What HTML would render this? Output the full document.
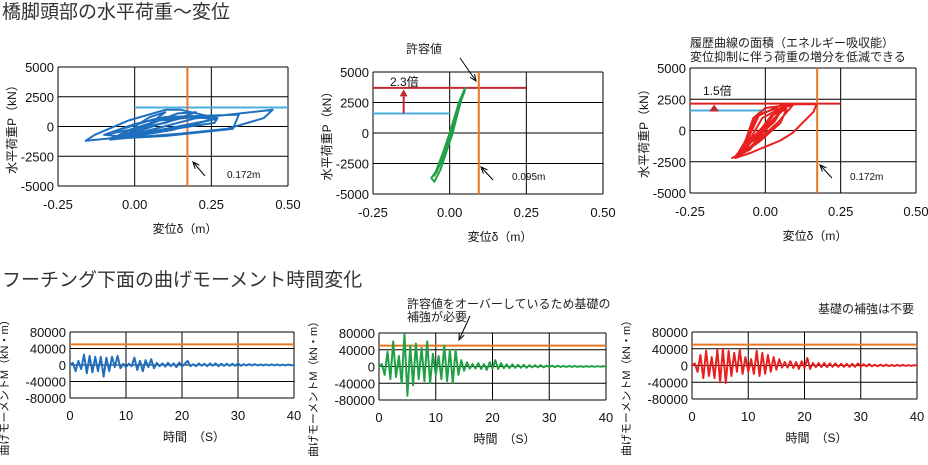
<!DOCTYPE html>
<html><head><meta charset="utf-8"><style>
body{margin:0;background:#fff;}
svg{display:block;font-family:"Liberation Sans","Noto Sans CJK JP",sans-serif;}
</style></head><body>
<svg id="c" width="928" height="465" viewBox="0 0 928 465">
<text x="2" y="18" font-size="19" fill="#333">橋脚頭部の水平荷重～変位</text>
<text x="2" y="286" font-size="19" fill="#333">フーチング下面の曲げモーメント時間変化</text>
<text x="690" y="47" font-size="12" fill="#222">履歴曲線の面積（エネルギー吸収能）</text>
<text x="690" y="61" font-size="12" fill="#222">変位抑制に伴う荷重の増分を低減できる</text>
<text x="406" y="53" font-size="12" fill="#222">許容値</text>
<text x="407" y="308" font-size="12" fill="#222">許容値をオーバーしているため基礎の</text>
<text x="407" y="321" font-size="12" fill="#222">補強が必要</text>
<text x="818" y="313" font-size="12" fill="#222">基礎の補強は不要</text>
</svg>
<script>
// ---- data ----
const hystXTicks=[-0.25,0,0.25,0.5];
const hystXTickLabels=["-0.25","0.00","0.25","0.50"];
const hystYTicks=[-5000,-2500,0,2500,5000];
const hystYTickLabels=["-5000","-2500","0","2500","5000"];
const blueDisp=[0,0.05,0.1,0.02,-0.08,-0.16,-0.13,-0.02,0.1,0.15,0.27,0.12,-0.02,-0.1,0,0.1,0.34,0.32,0.1,-0.05,0.05,0.2,0.45,0.42,0.3,0.15,0,-0.08,-0.02,0.08,0.2,0.26,0.12,0.02,-0.06,0.04,0.14,0.2,0.1,0,-0.1,-0.04,0.06,0.13,0.27,0.26,0.1,-0.03,0.08,0.18,0.12];
const blueLoad=[0,800,1200,-300,-1000,-1200,-700,500,1400,1400,700,-300,-900,-700,200,800,1000,-200,-800,-1000,-300,700,1400,700,-200,-600,-900,-1100,-300,500,800,600,-100,-600,-900,100,1100,1200,300,-200,-700,-200,600,800,700,300,-300,-800,200,900,500];
const greenDisp=[0,0.03,0.05,0.04,-0.01,-0.04,-0.06,-0.05,-0.03,0.01,0.04,0.05,0.02,-0.02,-0.05,-0.03,0.02,0.045,0.03,0,-0.03,-0.045,-0.02,0.01];
const greenLoad=[0,2500,3700,3000,-1000,-3000,-3700,-4000,-3000,0,3000,3500,1500,-1500,-3500,-2500,1000,3400,2500,-200,-2500,-3300,-1500,200];
const redDisp=[0,0.05,0.08,0.03,-0.05,-0.11,-0.08,-0.04,0,0.1,0.17,0.16,0.09,0.05,-0.05,-0.1,-0.07,-0.03,0.05,0.08,0,-0.06,-0.1,-0.06,-0.02,0.04,0.02,-0.04,-0.09,-0.05,0.01,0.06,0.03,-0.05,-0.1,-0.07,-0.01,0.06,0.09,0.04,-0.03,-0.08,-0.04,0.02,0.07,0.05,-0.02,-0.07];
const redLoad=[0,1500,2100,1000,-1500,-2200,-1800,1000,1800,2100,2100,1500,-200,-800,-1800,-2200,-1000,1100,2000,2100,300,-1200,-2100,-800,1300,1800,1000,-500,-2000,-1500,900,1900,700,-1000,-2100,-1500,1000,1900,2000,600,-900,-1900,-700,1200,1700,600,-900,-1700];
const baseLoad=1600;
const p2Ref=3700, p3Ref=2150;
const p1Allow=0.172, p2Allow=0.095, p3Allow=0.172;
const timeXTicks=[0,10,20,30,40];
const timeYTicks=[-80000,-40000,0,40000,80000];
const timeYTickLabels=["-80000","-40000","0","40000","80000"];
const momentAllow=50000;
const timeStep=0.5;
const blueMoment=[0,5000,-15000,10000,-10000,25000,-20000,22000,-18000,20000,-15000,20000,-28000,18000,-15000,20000,-5000,22000,-8000,3000,-5000,3000,-3000,18000,-12000,10000,-15000,12000,-5000,14000,-8000,5000,-3000,4000,-4000,5000,-3000,4000,-5000,6000,-4000,3000,10000,-3000,2000,-3000,4000,-2000,3000,-3000,4000,-2000,4000,-3000,3000,-2000,3000,-2000,3000,-2000,4000,-2000,2000,-1000,2000,-1000,2000,-1000,1500,-1000,1500,-1000,1500,-1000,1500,-1000,1000,-1000,1000,-500,0];
const greenMoment=[0,6000,-20000,35000,-30000,60000,-25000,25000,-40000,78000,-70000,50000,-45000,55000,-30000,45000,-35000,60000,-40000,30000,-20000,25000,-30000,50000,-35000,40000,-40000,40000,-20000,15000,-10000,10000,-5000,6000,-5000,8000,-6000,6000,-8000,10000,-5000,15000,-6000,8000,-4000,5000,-4000,5000,-3000,4000,-3000,4000,-3000,3000,-2000,3000,-2000,3000,-2000,2000,-1500,2000,-1500,2000,-1000,1500,-1000,1500,-1000,1500,-1000,1000,-1000,1000,-800,1000,-800,800,-500,500,0];
const redMoment=[0,5000,-15000,25000,-30000,35000,-25000,20000,-30000,38000,-40000,40000,-42000,35000,-25000,30000,-15000,38000,-20000,20000,-15000,15000,-20000,35000,-25000,30000,-20000,25000,-15000,20000,-10000,15000,-5000,8000,-5000,10000,-6000,8000,-8000,10000,-6000,18000,-8000,6000,-4000,6000,-4000,6000,-4000,5000,-3000,5000,-3000,4000,-3000,4000,-3000,4000,-3000,5000,-3000,3000,-2000,3000,-2000,2000,-2000,2000,-1500,2000,-1500,1500,-1500,1500,-1000,1500,-1000,1000,-1000,800,0];

const svg=document.getElementById('c');
const NS='http://www.w3.org/2000/svg';
function mk(tag,attrs,parent){const e=document.createElementNS(NS,tag);for(const k in attrs)e.setAttribute(k,attrs[k]);(parent||svg).appendChild(e);return e;}
function txt(x,y,s,size,anchor,parent){const t=mk('text',{x:x,y:y,'font-size':size,'text-anchor':anchor||'start',fill:'#111'},parent);t.textContent=s;return t;}

function axes(box,xmin,xmax,ymin,ymax){
  return {sx:v=>box.x0+(v-xmin)/(xmax-xmin)*(box.x1-box.x0), sy:v=>box.y1-(v-ymin)/(ymax-ymin)*(box.y1-box.y0)};
}
function frame(g,box,a,xt,yt){
  xt.forEach(v=>{const l=mk('line',{x1:a.sx(v),x2:a.sx(v),y1:box.y0,y2:box.y1,stroke:'#000','stroke-width':1},g);
    
    });
  yt.forEach(v=>{const l=mk('line',{x1:box.x0,x2:box.x1,y1:a.sy(v),y2:a.sy(v),stroke:'#000','stroke-width':1},g);
    
    });
}

function hyst(id,box,disp,load,color,extra){
  const g=mk('g',{});
  
  
  const a=axes(box,-0.25,0.5,-5000,5000);
  frame(g,box,a,hystXTicks,hystYTicks);
  hystYTicks.forEach((v,i)=>{const t=txt(box.x0-4,a.sy(v)+5,hystYTickLabels[i],13,'end',g);
    
    });
  hystXTicks.forEach((v,i)=>{const t=txt(a.sx(v),box.y1+23,hystXTickLabels[i],13,'middle',g);
    
    });
  const xt=txt((box.x0+box.x1)/2+12,box.y1+47,'変位δ（m）',12,'middle',g);
  
  
  const yx=box.x0-42, yy=(box.y0+box.y1)/2;
  const yt=txt(yx,yy,'水平荷重P（kN）',12,'middle',g);
  yt.setAttribute('transform','rotate(-90 '+yx+' '+yy+')');
  
  
  extra(g,a);
  const pts=disp.map((d,i)=>a.sx(d).toFixed(1)+','+a.sy(load[i]).toFixed(1)).join(' ');
  const p=mk('polyline',{points:pts,fill:'none',stroke:color,'stroke-width':2,'stroke-linejoin':'round'},g);
  
  
  return a;
}
function hline(g,a,x1,x2,y,color,name){const l=mk('line',{x1:a.sx(x1),x2:a.sx(x2),y1:a.sy(y),y2:a.sy(y),stroke:color,'stroke-width':2},g);
  
  }
function vline(g,a,x,box,name){const l=mk('line',{x1:a.sx(x),x2:a.sx(x),y1:box.y0,y2:box.y1,stroke:'#e87722','stroke-width':2},g);
  
  }
function arrow(g,x1,y1,x2,y2,name){
  const l=mk('line',{x1:x1,y1:y1,x2:x2,y2:y2,stroke:'#000','stroke-width':1},g);
  
  
  const ang=Math.atan2(y2-y1,x2-x1),L=7;
  mk('polyline',{points:(x2-L*Math.cos(ang-0.4))+','+(y2-L*Math.sin(ang-0.4))+' '+x2+','+y2+' '+(x2-L*Math.cos(ang+0.4))+','+(y2-L*Math.sin(ang+0.4)),fill:'none',stroke:'#000','stroke-width':1},g);
}

const b1={x0:58,x1:288,y0:67,y1:186};
hyst('panel-1-original',b1,blueDisp,blueLoad,'#1f6fbf',(g,a)=>{
  hline(g,a,0,0.5,baseLoad,'#4aaee0','base-load-line');
  vline(g,a,p1Allow,b1,'allowable-disp-line');
  arrow(g,205,176,193,162,'allowable-arrow');
  const t=txt(227,178,'0.172m',10,'start',g);
  
  
});
const b2={x0:373,x1:603,y0:72,y1:194};
hyst('panel-2-stiffened',b2,greenDisp,greenLoad,'#22a045',(g,a)=>{
  hline(g,a,-0.25,0,baseLoad,'#4aaee0','base-load-line');
  hline(g,a,-0.25,0.25,p2Ref,'#c0282d','increased-load-line');
  vline(g,a,p2Allow,b2,'allowable-disp-line');
  const x=a.sx(-0.15);
  mk('line',{x1:x,x2:x,y1:a.sy(baseLoad),y2:a.sy(3000),stroke:'#c0282d','stroke-width':2},g);
  mk('polygon',{points:(x-4)+','+a.sy(3000)+' '+(x+4)+','+a.sy(3000)+' '+x+','+(a.sy(3000)-7),fill:'#c0282d'},g);
  const t=txt(390,86,'2.3倍',12,'start',g);
  
  
  arrow(g,460,58,476,81,'allowable-arrow');
  arrow(g,493,180,481,167,'disp-arrow');
  const t2=txt(512,180,'0.095m',10,'start',g);
  
  
});
const b3={x0:690,x1:916,y0:68,y1:193};
hyst('panel-3-damped',b3,redDisp,redLoad,'#e82020',(g,a)=>{
  hline(g,a,-0.25,0,baseLoad,'#4aaee0','base-load-line');
  hline(g,a,-0.25,0.25,p3Ref,'#e02020','increased-load-line');
  vline(g,a,p3Allow,b3,'allowable-disp-line');
  const x=a.sx(-0.17);
  mk('polygon',{points:(x-5)+','+(a.sy(baseLoad)+1)+' '+(x+5)+','+(a.sy(baseLoad)+1)+' '+x+','+(a.sy(p3Ref)+1),fill:'#c0282d'},g);
  const t=txt(703,95,'1.5倍',12,'start',g);
  
  
  arrow(g,832,178,820,165,'disp-arrow');
  const t2=txt(850,180,'0.172m',10,'start',g);
  
  
});

function timePanel(id,box,vals,color){
  const g=mk('g',{});
  
  
  const a=axes(box,0,40,-80000,80000);
  frame(g,box,a,timeXTicks,timeYTicks);
  timeYTicks.forEach((v,i)=>{const t=txt(box.x0-4,a.sy(v)+5,timeYTickLabels[i],13,'end',g);
    
    });
  timeXTicks.forEach(v=>{const t=txt(a.sx(v),box.y1+22,String(v),13,'middle',g);
    
    });
  const xt=txt((box.x0+box.x1)/2+12,box.y1+43,'時間　（S）',12,'middle',g);
  
  
  const yx=box.x0-62, yy=(box.y0+box.y1)/2+20;
  const yt=txt(yx,yy,'曲げモーメントM（kN・m）',11,'middle',g);
  yt.setAttribute('transform','rotate(-90 '+yx+' '+yy+')');
  
  
  const al=mk('line',{x1:box.x0,x2:box.x1,y1:a.sy(momentAllow),y2:a.sy(momentAllow),stroke:'#e87722','stroke-width':2},g);
  
  
  const pts=vals.map((v,i)=>a.sx(i*timeStep).toFixed(1)+','+a.sy(v).toFixed(1)).join(' ');
  const p=mk('polyline',{points:pts,fill:'none',stroke:color,'stroke-width':2,'stroke-linejoin':'round','stroke-linecap':'round'},g);
  
  
  return g;
}
timePanel('moment-panel-1',{x0:70,x1:294,y0:332,y1:398},blueMoment,'#1f6fbf');
const g2=timePanel('moment-panel-2',{x0:379,x1:606,y0:333,y1:400},greenMoment,'#22a045');
arrow(g2,470,316,459,340,'overload-arrow');
timePanel('moment-panel-3',{x0:692,x1:917,y0:332,y1:399},redMoment,'#e82020');
</script>
</body></html>
